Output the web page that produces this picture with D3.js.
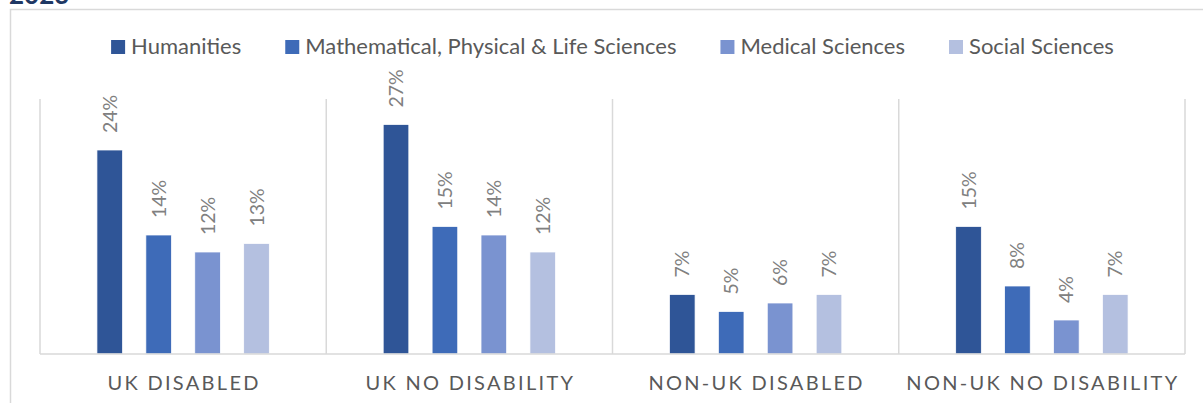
<!DOCTYPE html>
<html>
<head>
<meta charset="utf-8">
<script src="https://cdn.jsdelivr.net/npm/d3@7"></script>
<style>
  html, body { margin: 0; padding: 0; background: #fff; overflow: hidden; }
  svg { display: block; }
</style>
</head>
<body>
<div id="chart"></div>
<script>
var categories = ['UK DISABLED', 'UK NO DISABILITY', 'NON-UK DISABLED', 'NON-UK NO DISABILITY'];
var seriesNames = ['Humanities', 'Mathematical, Physical & Life Sciences', 'Medical Sciences', 'Social Sciences'];
var humanities = [0.24, 0.27, 0.07, 0.15];
var mathPhysLife = [0.14, 0.15, 0.05, 0.08];
var medical = [0.12, 0.14, 0.06, 0.04];
var social = [0.13, 0.12, 0.07, 0.07];
var yDomain = [0, 0.30];
var chartTitle = '2023';

var seriesValues = [humanities, mathPhysLife, medical, social];
var colors = ['#2f5597', '#3e6bb8', '#7a93d0', '#b4c0e0'];

var W = 1203, H = 403;
var plot = { left: 40, right: 1185, top: 99, bottom: 354 };
var font = 'Lato, "Open Sans", sans-serif';

var svg = d3.select('#chart').append('svg')
  .attr('width', W)
  .attr('height', H);

// title, mostly cut off above the frame (as in the source)
svg.append('text')
  .attr('x', 9)
  .attr('y', 4)
  .style('font-family', font)
  .style('font-weight', 'bold')
  .style('font-size', '26px')
  .style('fill', '#1f3864')
  .text(chartTitle);

// chart frame (only top and left are inside the picture)
svg.append('rect')
  .attr('x', 10.5)
  .attr('y', 9.5)
  .attr('width', 1400)
  .attr('height', 600)
  .style('fill', '#fff')
  .style('stroke', '#d9d9d9')
  .style('stroke-width', 1.5);

var x0 = d3.scaleBand()
  .domain(categories)
  .range([plot.left, plot.right])
  .padding(0);

var x1 = d3.scaleBand()
  .domain(seriesNames)
  .range([0, x0.bandwidth()])
  .paddingInner(0.476)
  .paddingOuter(1.164);

var y = d3.scaleLinear()
  .domain(yDomain)
  .range([plot.bottom, plot.top]);

// vertical separators between categories
var edges = categories.map(function (c) { return x0(c); }).concat([plot.right]);
svg.append('g').selectAll('line')
  .data(edges)
  .enter().append('line')
  .attr('x1', function (d) { return d; })
  .attr('x2', function (d) { return d; })
  .attr('y1', plot.top)
  .attr('y2', plot.bottom)
  .style('stroke', '#d9d9d9')
  .style('stroke-width', 1.5);

// bars
var groups = svg.append('g').selectAll('g')
  .data(categories)
  .enter().append('g')
  .attr('transform', function (c) { return 'translate(' + x0(c) + ',0)'; });

groups.each(function (c, ci) {
  var g = d3.select(this);
  var rows = seriesNames.map(function (s, si) {
    return { name: s, value: seriesValues[si][ci], color: colors[si] };
  });

  g.selectAll('rect')
    .data(rows)
    .enter().append('rect')
    .attr('x', function (d) { return x1(d.name); })
    .attr('y', function (d) { return y(d.value); })
    .attr('width', x1.bandwidth())
    .attr('height', function (d) { return y(0) - y(d.value); })
    .style('fill', function (d) { return d.color; })
    .style('stroke', '#fff')
    .style('stroke-width', 0.75);

  g.selectAll('text')
    .data(rows)
    .enter().append('text')
    .attr('transform', function (d) {
      return 'translate(' + (x1(d.name) + x1.bandwidth() / 2) + ',' + (y(d.value) - 17) + ') rotate(-90)';
    })
    .attr('dy', '0.36em')
    .attr('text-anchor', 'start')
    .style('font-family', font)
    .style('font-size', '19.5px')
    .style('fill', '#808080')
    .text(function (d) { return d3.format('.0%')(d.value); });
});

// axis line
svg.append('line')
  .attr('x1', plot.left)
  .attr('x2', plot.right)
  .attr('y1', plot.bottom)
  .attr('y2', plot.bottom)
  .style('stroke', '#d9d9d9')
  .style('stroke-width', 1.5);

// category labels
svg.append('g').selectAll('text')
  .data(categories)
  .enter().append('text')
  .attr('x', function (c) { return x0(c) + x0.bandwidth() / 2 + 1; })
  .attr('y', 390)
  .attr('text-anchor', 'middle')
  .style('font-family', font)
  .style('font-size', '20px')
  .style('letter-spacing', '2.3px')
  .style('fill', '#595959')
  .text(function (c) { return c; });

// legend, centered over the plot
var legend = svg.append('g');
var items = legend.selectAll('g')
  .data(seriesNames)
  .enter().append('g');

items.append('rect')
  .attr('width', 14)
  .attr('height', 14)
  .attr('y', 40)
  .style('fill', function (d, i) { return colors[i]; });

items.append('text')
  .attr('x', 20)
  .attr('y', 54)
  .style('font-family', font)
  .style('font-size', '22px')
  .style('fill', '#595959')
  .text(function (d) { return d; });

var widths = [];
items.select('text').each(function () { widths.push(this.getComputedTextLength()); });
var gap = 44;
var total = d3.sum(widths, function (w) { return 20 + w; }) + gap * (widths.length - 1);
var cursor = (plot.left + plot.right) / 2 - total / 2;
items.attr('transform', function (d, i) {
  var t = 'translate(' + cursor + ',0)';
  cursor += 20 + widths[i] + gap;
  return t;
});
</script>
</body>
</html>
